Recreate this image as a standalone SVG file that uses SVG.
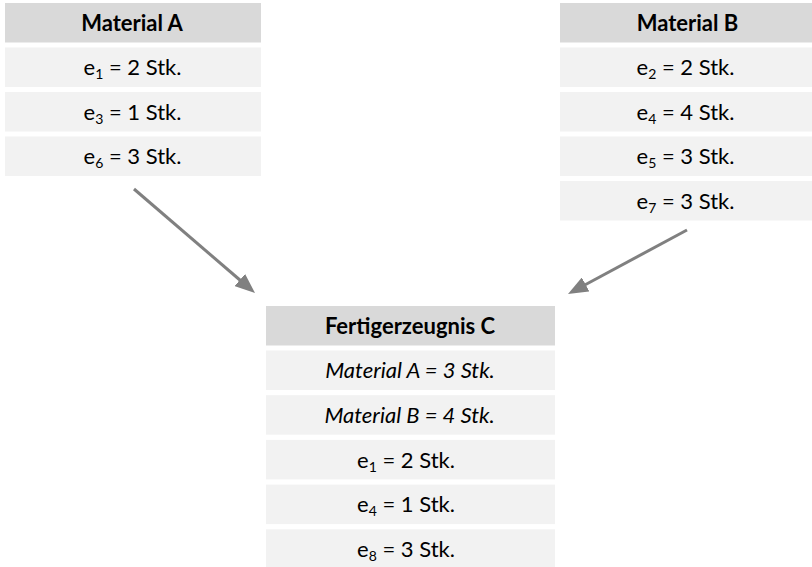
<svg xmlns="http://www.w3.org/2000/svg" width="812" height="567" viewBox="0 0 812 567">
<style>
.hd{fill:#d9d9d9}
.rw{fill:#f2f2f2}
text{font-family:Lato,"Open Sans","Liberation Sans",sans-serif;font-size:22px;fill:#000;text-anchor:middle}
.b{font-weight:bold}
.i{font-style:italic}
.sub{font-size:14px}
.conn{stroke:#808080;stroke-width:3;fill:none}
</style>
<defs>
<marker id="ah" markerUnits="userSpaceOnUse" markerWidth="20" markerHeight="16" viewBox="0 0 20 16" refX="2" refY="8" orient="auto">
<path d="M0,0 L20,8 L0,16 z" fill="#808080"/>
</marker>
</defs>
<rect width="812" height="567" fill="#fff"/>
<g id="materialA">
<rect class="hd" x="5" y="3" width="256" height="39.5"/>
<text class="b" x="132" y="30.5">Material A</text>
<rect class="rw" x="5" y="47.5" width="256" height="39.5"/>
<text x="132.5" y="75">e<tspan class="sub" dy="4">1</tspan><tspan dy="-4"> = 2 Stk.</tspan></text>
<rect class="rw" x="5" y="92" width="256" height="39.5"/>
<text x="132.5" y="119.5">e<tspan class="sub" dy="4">3</tspan><tspan dy="-4"> = 1 Stk.</tspan></text>
<rect class="rw" x="5" y="136.5" width="256" height="39.5"/>
<text x="132.5" y="164">e<tspan class="sub" dy="4">6</tspan><tspan dy="-4"> = 3 Stk.</tspan></text>
</g>
<g id="materialB">
<rect class="hd" x="560" y="3" width="256" height="39.5"/>
<text class="b" x="687.5" y="30.5">Material B</text>
<rect class="rw" x="560" y="47.5" width="256" height="39.5"/>
<text x="685.5" y="75">e<tspan class="sub" dy="4">2</tspan><tspan dy="-4"> = 2 Stk.</tspan></text>
<rect class="rw" x="560" y="92" width="256" height="39.5"/>
<text x="685.5" y="119.5">e<tspan class="sub" dy="4">4</tspan><tspan dy="-4"> = 4 Stk.</tspan></text>
<rect class="rw" x="560" y="136.5" width="256" height="39.5"/>
<text x="685.5" y="164">e<tspan class="sub" dy="4">5</tspan><tspan dy="-4"> = 3 Stk.</tspan></text>
<rect class="rw" x="560" y="181" width="256" height="39.5"/>
<text x="685.5" y="208.5">e<tspan class="sub" dy="4">7</tspan><tspan dy="-4"> = 3 Stk.</tspan></text>
</g>
<g id="fertigerzeugnisC">
<rect class="hd" x="266" y="306" width="289" height="39.5"/>
<text class="b" x="410" y="333.5">Fertigerzeugnis C</text>
<rect class="rw" x="266" y="350.5" width="289" height="39.5"/>
<text class="i" x="410" y="378">Material A = 3 Stk.</text>
<rect class="rw" x="266" y="395.2" width="289" height="39.5"/>
<text class="i" x="409.5" y="422.7">Material B = 4 Stk.</text>
<rect class="rw" x="266" y="439.9" width="289" height="39.5"/>
<text x="406" y="467.5">e<tspan class="sub" dy="4">1</tspan><tspan dy="-4"> = 2 Stk.</tspan></text>
<rect class="rw" x="266" y="484.6" width="289" height="39.5"/>
<text x="406" y="512.2">e<tspan class="sub" dy="4">4</tspan><tspan dy="-4"> = 1 Stk.</tspan></text>
<rect class="rw" x="266" y="529.3" width="289" height="39.5"/>
<text x="406" y="556.9">e<tspan class="sub" dy="4">8</tspan><tspan dy="-4"> = 3 Stk.</tspan></text>
</g>
<g id="connectors">
<line class="conn" x1="134" y1="189" x2="241.35" y2="281.26" marker-end="url(#ah)"/>
<line class="conn" x1="687" y1="230" x2="583.85" y2="285.47" marker-end="url(#ah)"/>
</g>
</svg>
